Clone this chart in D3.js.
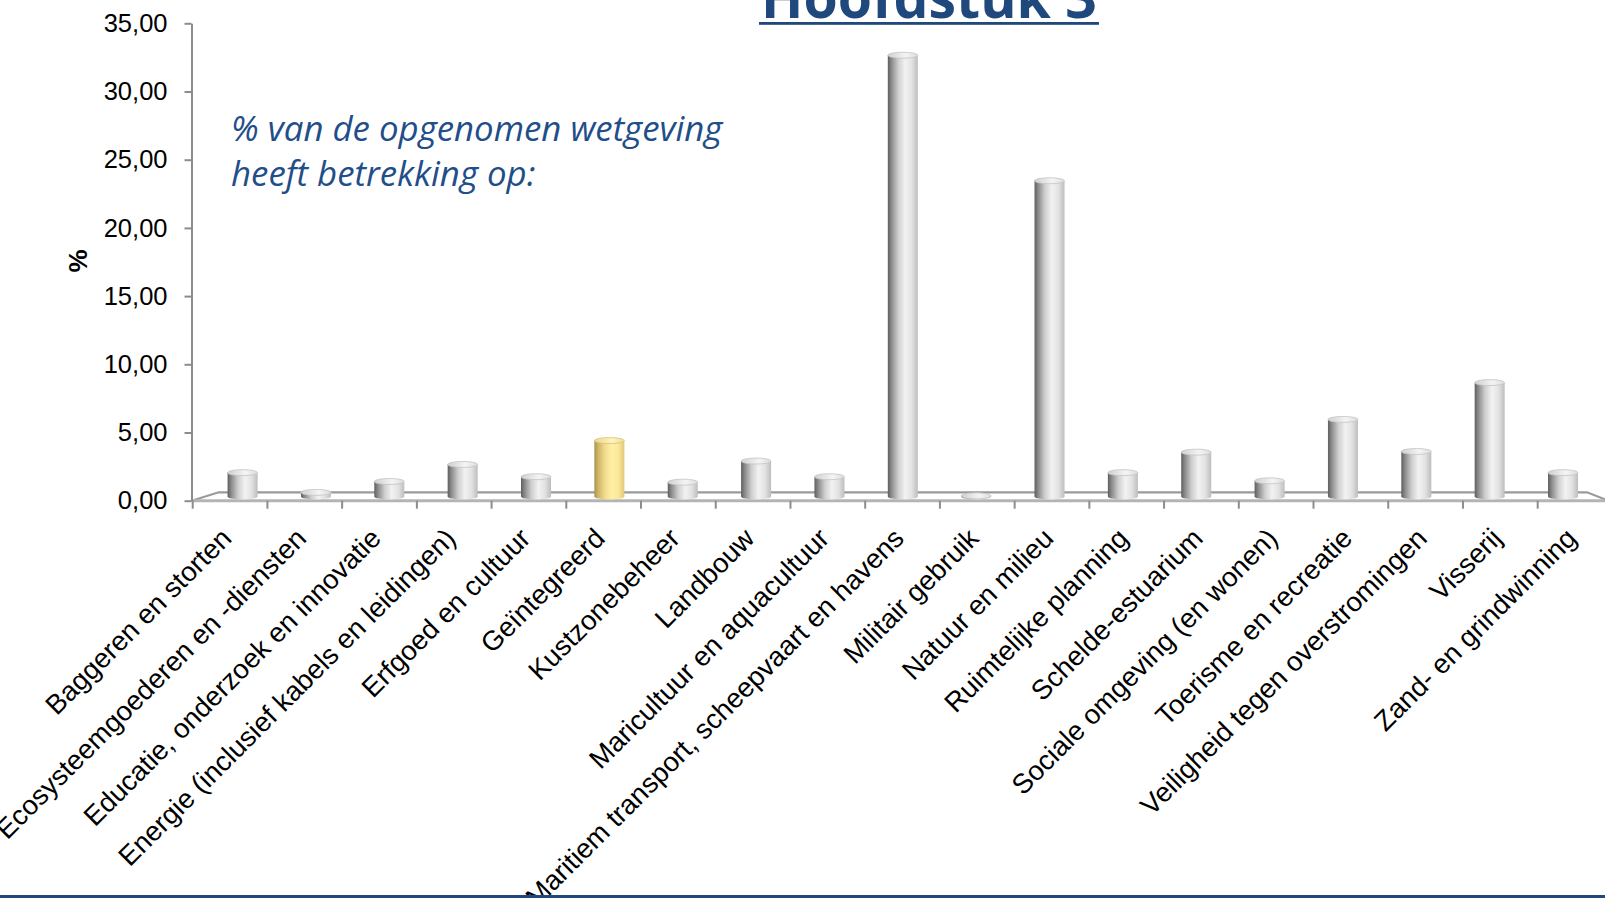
<!DOCTYPE html>
<html>
<head>
<meta charset="utf-8">
<script src="https://cdn.jsdelivr.net/npm/d3@7"></script>
<style>
  html, body { margin: 0; padding: 0; background: #fff; overflow: hidden; }
  svg { display: block; }
</style>
</head>
<body>
<div id="chart"></div>
<script>
var width = 1605;
var height = 898;

// data
const categories = [
  "Baggeren en storten",
  "Ecosysteemgoederen en -diensten",
  "Educatie, onderzoek en innovatie",
  "Energie (inclusief kabels en leidingen)",
  "Erfgoed en cultuur",
  "Geïntegreerd",
  "Kustzonebeheer",
  "Landbouw",
  "Maricultuur en aquacultuur",
  "Maritiem transport, scheepvaart en havens",
  "Militair gebruik",
  "Natuur en milieu",
  "Ruimtelijke planning",
  "Schelde-estuarium",
  "Sociale omgeving (en wonen)",
  "Toerisme en recreatie",
  "Veiligheid tegen overstromingen",
  "Visserij",
  "Zand- en grindwinning"
];
const values = [1.75, 0.3, 1.1, 2.35, 1.45, 4.1, 1.05, 2.6, 1.45, 32.35, 0.05, 23.15, 1.75, 3.25, 1.15, 5.65, 3.3, 8.35, 1.75];
const highlighted = ["Geïntegreerd"];
const yTicks = [0, 5, 10, 15, 20, 25, 30, 35];
const titleText = "Hoofdstuk 3";
const noteLines = ["% van de opgenomen wetgeving", "heeft betrekking op:"];

const blue = "#1F497D";
const axisGrey = "#8c8c8c";

// 3d floor depth offset
const depthX = 27;
const depthY = 8.4;

const y = d3.scaleLinear().domain([0, 35]).range([500.7, 23.3]);
const xFront = d3.scaleBand().domain(categories).range([192.7, 1612.4]);
const xBar = d3.scaleBand().domain(categories).range([205.9, 1599.7]);
const barW = 30;
const ry = 3;

const svg = d3.select("#chart")
    .append("svg")
    .attr("width", width)
    .attr("height", height)
    .attr("viewBox", "0 0 " + width + " " + height);

const defs = svg.append("defs");

function cylGrad(id, stops) {
    const g = defs.append("linearGradient").attr("id", id)
        .attr("x1", "0%").attr("x2", "100%").attr("y1", "0%").attr("y2", "0%");
    stops.forEach(function(s) {
        g.append("stop").attr("offset", s[0]).attr("stop-color", s[1]);
    });
}
cylGrad("greyBody", [["0%", "#5e5e5e"], ["12%", "#8a8a8a"], ["35%", "#cfcfcf"], ["58%", "#f2f2f2"], ["80%", "#e2e2e2"], ["100%", "#bdbdbd"]]);
cylGrad("greyTop", [["0%", "#d0d0d0"], ["60%", "#f4f4f4"], ["100%", "#dcdcdc"]]);
cylGrad("yellowBody", [["0%", "#a8904a"], ["12%", "#cdb466"], ["35%", "#f2dc8c"], ["58%", "#fff0a6"], ["80%", "#fbe89a"], ["100%", "#e2c878"]]);
cylGrad("yellowTop", [["0%", "#ecd68a"], ["60%", "#fff4be"], ["100%", "#f0dc92"]]);

// title (mostly above the visible area)
svg.append("text")
    .attr("x", 929)
    .attr("y", 18)
    .attr("text-anchor", "middle")
    .attr("font-family", "'Open Sans', sans-serif")
    .attr("font-weight", "bold")
    .attr("font-size", 58)
    .attr("fill", blue)
    .attr("textLength", 336)
    .attr("lengthAdjust", "spacingAndGlyphs")
    .text(titleText);
svg.append("rect")
    .attr("x", 759).attr("y", 22).attr("width", 340).attr("height", 2.8)
    .attr("fill", blue);

// floor
const x0 = xFront.range()[0];
const x1 = xFront.range()[1];
svg.append("path")
    .attr("d", "M" + (x0 - 1) + "," + y(0) + "L" + (x0 - 1 + depthX) + "," + (y(0) - depthY) +
        "L1587," + (y(0) - depthY) + "L" + x1 + "," + (y(0) + 1.5))
    .attr("fill", "#ffffff")
    .attr("stroke", "#9a9a9a")
    .attr("stroke-width", 2.2);
svg.append("line")
    .attr("x1", x0 - 1).attr("x2", x1)
    .attr("y1", y(0)).attr("y2", y(0))
    .attr("stroke", "#b4b4b4")
    .attr("stroke-width", 3);

// x ticks at category boundaries
const bounds = categories.map(function(c) { return xFront(c); }).concat([x1]);
svg.append("g").selectAll("line")
    .data(bounds)
    .join("line")
    .attr("x1", function(d) { return d; })
    .attr("x2", function(d) { return d; })
    .attr("y1", y(0))
    .attr("y2", y(0) + 8)
    .attr("stroke", axisGrey)
    .attr("stroke-width", 2);

// cylinders
const bars = svg.append("g").selectAll("g")
    .data(categories.map(function(c, i) { return { cat: c, v: values[i] }; }))
    .join("g");

function isHi(d) { return highlighted.indexOf(d.cat) >= 0; }
function cx(d) { return xBar(d.cat) + xBar.bandwidth() / 2; }
function barBase() { return y(0) - depthY / 2; }
function barTop(d) { return y(d.v) - depthY / 2; }

bars.append("ellipse")
    .attr("cx", cx)
    .attr("cy", barBase)
    .attr("rx", barW / 2)
    .attr("ry", ry)
    .attr("fill", function(d) { return isHi(d) ? "url(#yellowBody)" : "url(#greyBody)"; });
bars.append("rect")
    .attr("x", function(d) { return cx(d) - barW / 2; })
    .attr("y", barTop)
    .attr("width", barW)
    .attr("height", function(d) { return barBase() - barTop(d); })
    .attr("fill", function(d) { return isHi(d) ? "url(#yellowBody)" : "url(#greyBody)"; });
bars.append("ellipse")
    .attr("cx", cx)
    .attr("cy", barTop)
    .attr("rx", barW / 2)
    .attr("ry", ry)
    .attr("fill", function(d) { return isHi(d) ? "url(#yellowTop)" : "url(#greyTop)"; })
    .attr("stroke", function(d) { return isHi(d) ? "#d8c27a" : "#c4c4c4"; })
    .attr("stroke-width", 0.8);

// y axis
const yAxis = svg.append("g")
    .attr("transform", "translate(" + 191.5 + ",0)")
    .call(d3.axisLeft(y)
        .tickValues(yTicks)
        .tickSize(7)
        .tickSizeOuter(0)
        .tickPadding(17)
        .tickFormat(function(d) { return d3.format(".2f")(d).replace(".", ","); }));
yAxis.select(".domain").attr("stroke", axisGrey).attr("stroke-width", 2);
yAxis.selectAll(".tick line").attr("stroke", axisGrey).attr("stroke-width", 2);
yAxis.selectAll(".tick text")
    .attr("font-family", "'Liberation Sans', Arial, sans-serif")
    .attr("font-size", 25.5)
    .attr("fill", "#000");

svg.append("text")
    .attr("transform", "translate(87,261) rotate(-90)")
    .attr("text-anchor", "middle")
    .attr("font-family", "'Liberation Sans', Arial, sans-serif")
    .attr("font-weight", "bold")
    .attr("font-size", 26)
    .text("%");

// category labels
svg.append("g").selectAll("text")
    .data(categories)
    .join("text")
    .attr("transform", function(d) {
        return "translate(" + (xFront(d) + xFront.bandwidth() / 2 + 3) + "," + 540 + ") rotate(-45)";
    })
    .attr("text-anchor", "end")
    .attr("font-family", "'Liberation Sans', Arial, sans-serif")
    .attr("font-size", 27.5)
    .attr("fill", "#000")
    .text(function(d) { return d; });

// note
svg.append("g").selectAll("text")
    .data(noteLines)
    .join("text")
    .attr("x", 231)
    .attr("y", function(d, i) { return 141 + i * 45; })
    .attr("font-family", "'Open Sans', sans-serif")
    .attr("font-style", "italic")
    .attr("font-size", 34.8)
    .attr("fill", "#1F4E89")
    .text(function(d) { return d; });

// bottom rule
svg.append("rect")
    .attr("x", 0).attr("y", 895).attr("width", width).attr("height", 3)
    .attr("fill", blue);
</script>
</body>
</html>
